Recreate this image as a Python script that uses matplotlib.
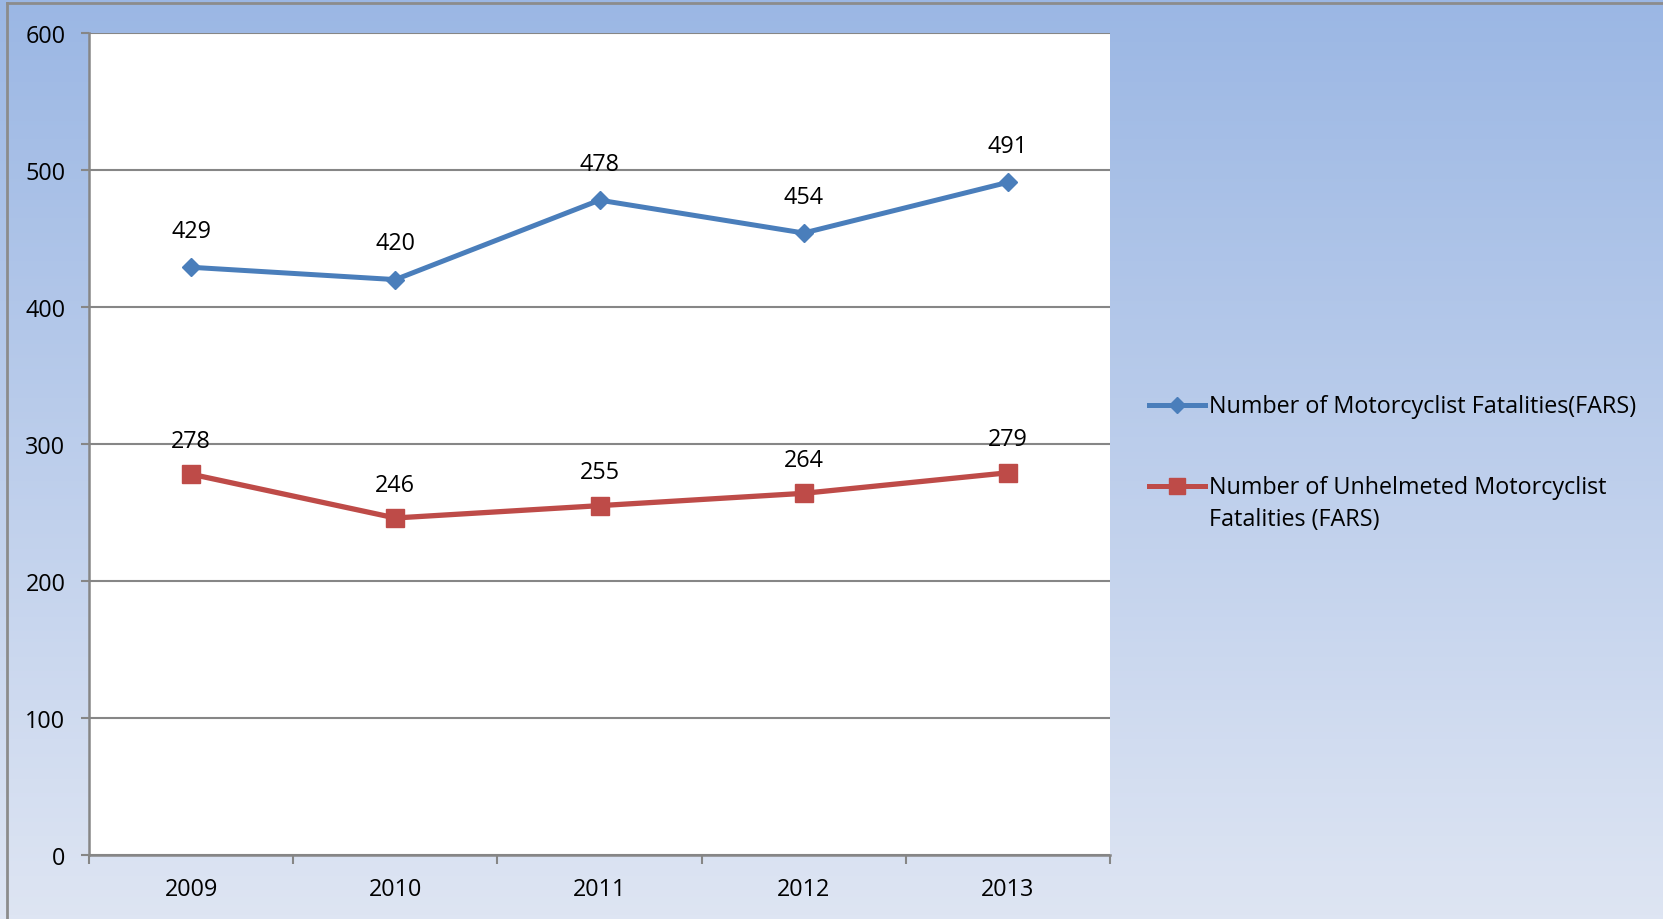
import numpy as np
import matplotlib.pyplot as plt
from matplotlib.lines import Line2D
from matplotlib.colors import LinearSegmentedColormap

years = ["2009", "2010", "2011", "2012", "2013"]
total = [429, 420, 478, 454, 491]
unhelmeted = [278, 246, 255, 264, 279]
labels = ["Number of Motorcyclist Fatalities(FARS)",
          "Number of Unhelmeted Motorcyclist\nFatalities (FARS)"]
yticks = [0, 100, 200, 300, 400, 500, 600]

blue = "#4A7EBB"
red = "#BE4B48"
grey = "#868686"
plt.rcParams['font.family'] = ['Open Sans', 'DejaVu Sans']
fs = 16.8

fig = plt.figure(figsize=(16.63, 9.2), dpi=100)

# gradient background
bg = fig.add_axes([0, 0, 1, 1], zorder=-5)
cmap = LinearSegmentedColormap.from_list("bg", ["#9BB7E4", "#DEE5F3"])
bg.imshow(np.linspace(0, 1, 256).reshape(-1, 1), aspect="auto", cmap=cmap,
          extent=[0, 1, 0, 1])
bg.set_axis_off()
# chart border (left and top)
fig.add_artist(Line2D([7/1663, 7/1663], [0, 1 - 4/920], color="#8C8C8C", lw=2))
fig.add_artist(Line2D([7/1663, 1], [1 - 4/920, 1 - 4/920], color="#8C8C8C", lw=2))

ax = fig.add_axes([89/1663, 64/920, 1021/1663, 822/920])
ax.set_facecolor("white")
x = np.arange(len(years))

ax.plot(x, total, color=blue, lw=3.6, marker="D", ms=9.5, mec=blue, zorder=3)
ax.plot(x, unhelmeted, color=red, lw=3.8, marker="s", ms=13.5, mec=red, zorder=3)
for xi, v in zip(x, total):
    ax.annotate(str(v), (xi, v), xytext=(0, 26), textcoords="offset points",
                ha="center", va="center", fontsize=fs)
for xi, v in zip(x, unhelmeted):
    ax.annotate(str(v), (xi, v), xytext=(0, 24), textcoords="offset points",
                ha="center", va="center", fontsize=fs)

ax.set_xlim(-0.5, len(years) - 0.5)
ax.set_ylim(0, 600)
ax.set_yticks(yticks)
ax.yaxis.grid(True, color=grey, lw=1.5)
ax.set_axisbelow(True)
ax.tick_params(axis="y", length=6, width=1.5, color=grey, pad=11, labelsize=fs)

ax.set_xticks(np.arange(-0.5, len(years)), [""] * (len(years) + 1))
ax.set_xticks(x, years, minor=True)
ax.tick_params(axis="x", which="major", length=6.5, width=1.5, color=grey)
ax.tick_params(axis="x", which="minor", length=0, pad=16, labelsize=fs)

for s in ["top", "right"]:
    ax.spines[s].set_visible(False)
for s in ["left", "bottom"]:
    ax.spines[s].set_color(grey)
    ax.spines[s].set_linewidth(1.8)

# legend drawn at fixed place, handle aligned with first text line
leg = [(blue, "D", 8, 1 - 406/920), (red, "s", 12, 1 - 487/920)]
for (c, m, ms, yy), lab in zip(leg, labels):
    fig.add_artist(Line2D([1149/1663, 1205/1663], [yy, yy], color=c, lw=3.6))
    fig.add_artist(Line2D([1177/1663], [yy], color=c, marker=m, ms=ms, mec=c))
    fig.text(1209/1663, yy + 11/920, lab, fontsize=fs, va="top", ha="left",
             linespacing=1.45)

fig.savefig("out.png", dpi=100)
